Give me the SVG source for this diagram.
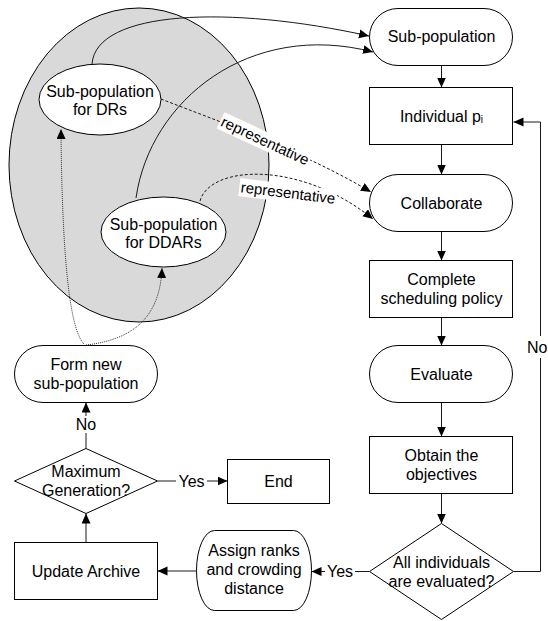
<svg xmlns="http://www.w3.org/2000/svg" width="548" height="621" viewBox="0 0 548 621">
<style>
.s{fill:#fff;stroke:#000;stroke-width:1}
text{font-family:"Liberation Sans",Arial,sans-serif;font-size:16px;fill:#000;text-anchor:middle}
.c{fill:none;stroke:#1a1a1a;stroke-width:1}
.a{marker-end:url(#ah)}
.d{stroke-dasharray:3,2}
.o{stroke-dasharray:1,1;stroke:#333}
.lbl{font-size:15px}
.bg{fill:#fff;stroke:none}
</style>
<defs>
<marker id="ah" markerUnits="userSpaceOnUse" markerWidth="10" markerHeight="10" refX="10" refY="4.5" orient="auto"><path d="M0,0 L10,4.5 L0,9z" fill="#000"/></marker>
</defs>
<rect width="548" height="621" fill="#fff"/>
<g id="pool"><ellipse cx="139" cy="165" rx="130" ry="157" fill="#d9d9d9" stroke="#000"/></g>

<g id="connectors">
<path class="c a" d="M92,64 C96,10 230,5 369,36"/>
<path class="c a" d="M136,198 C150,100 250,20 373,52"/>
<path class="c d a" d="M161,99 C220,122 300,150 371,192"/>
<path class="c d a" d="M200,201 C210,165 300,160 373,219"/>
<path class="c o a" d="M84,344 C70,330 62,260 61,129"/>
<path class="c o a" d="M86,345 C130,340 160,320 162,268"/>
<line class="c a" x1="441.5" y1="65.5" x2="441.5" y2="87.5"/>
<line class="c a" x1="441.5" y1="144.5" x2="441.5" y2="174.5"/>
<line class="c a" x1="441.5" y1="231.5" x2="441.5" y2="260.5"/>
<line class="c a" x1="441.5" y1="317.5" x2="441.5" y2="345.5"/>
<line class="c a" x1="441.5" y1="402.5" x2="441.5" y2="436.5"/>
<line class="c a" x1="441.5" y1="493.5" x2="441.5" y2="523.5"/>
<path class="c a" d="M513.5,571.5 H540.5 V122 H513.5"/>
<line class="c a" x1="369.5" y1="571.5" x2="311.5" y2="571.5"/>
<line class="c a" x1="196.5" y1="571" x2="157.5" y2="571"/>
<line class="c a" x1="86" y1="542.5" x2="86" y2="513.5"/>
<line class="c a" x1="157.5" y1="481" x2="227.5" y2="481"/>
<line class="c a" x1="86" y1="448.5" x2="86" y2="402.5"/>
<g transform="translate(265,141) rotate(25)"><rect class="bg" x="-49" y="-9" width="98" height="18"/><text class="lbl" x="0" y="5">representative</text></g>
<g transform="translate(288,193) rotate(7)"><rect class="bg" x="-49" y="-9" width="98" height="18"/><text class="lbl" x="0" y="5">representative</text></g>
<rect class="bg" x="525" y="336" width="23" height="22"/><text x="527" y="353" style="text-anchor:start">No</text>
<rect class="bg" x="75" y="416" width="22" height="17"/><text x="86" y="430">No</text>
<rect class="bg" x="176" y="472" width="31" height="18"/><text x="191.5" y="486.5">Yes</text>
<rect class="bg" x="325" y="562" width="30" height="18"/><text x="340" y="577">Yes</text>
</g>

<g id="drs"><ellipse class="s" cx="100" cy="99.5" rx="61" ry="35.5"/><text x="100" y="97">Sub-population</text><text x="100" y="115">for DRs</text></g>
<g id="ddars"><ellipse class="s" cx="163.5" cy="232" rx="62.5" ry="35"/><text x="163.5" y="230">Sub-population</text><text x="163.5" y="248">for DDARs</text></g>
<g id="subpop"><rect class="s" x="369.5" y="8.5" width="143" height="57" rx="28.5"/><text x="441.5" y="42">Sub-population</text></g>
<g id="individual"><rect class="s" x="369.5" y="87.5" width="143" height="57"/><text x="441.5" y="122">Individual p<tspan font-size="10" dy="1">i</tspan></text></g>
<g id="collaborate"><rect class="s" x="369.5" y="174.5" width="143" height="57" rx="28.5"/><text x="441.5" y="208.5">Collaborate</text></g>
<g id="complete"><rect class="s" x="369.5" y="260.5" width="143" height="57"/><text x="441.5" y="284.5">Complete</text><text x="441.5" y="303.5">scheduling policy</text></g>
<g id="evaluate"><rect class="s" x="369.5" y="345.5" width="143" height="57" rx="28.5"/><text x="441.5" y="379.5">Evaluate</text></g>
<g id="obtain"><rect class="s" x="369.5" y="436.5" width="143" height="57"/><text x="441.5" y="460.5">Obtain the</text><text x="441.5" y="479.5">objectives</text></g>
<g id="allind"><polygon class="s" points="441.5,523.5 513.5,571.5 441.5,619.5 369.5,571.5"/><text x="441.5" y="567.5">All individuals</text><text x="441.5" y="586.5">are evaluated?</text></g>
<g id="assign"><rect class="s" x="196.5" y="530.5" width="115" height="80" rx="18" ry="40"/><text x="254" y="556">Assign ranks</text><text x="254" y="575">and crowding</text><text x="254" y="594">distance</text></g>
<g id="update"><rect class="s" x="14.5" y="542.5" width="143" height="57"/><text x="86" y="576.5">Update Archive</text></g>
<g id="maxgen"><polygon class="s" points="86,448.5 157.5,481 86,513.5 14.5,481"/><text x="86" y="476.5">Maximum</text><text x="86" y="495.5">Generation?</text></g>
<g id="end"><rect class="s" x="227.5" y="459.5" width="102" height="44"/><text x="278.5" y="486.5">End</text></g>
<g id="formnew"><rect class="s" x="14.5" y="345.5" width="143" height="57" rx="28.5"/><text x="86" y="369.5">Form new</text><text x="86" y="388.5">sub-population</text></g>
</svg>
